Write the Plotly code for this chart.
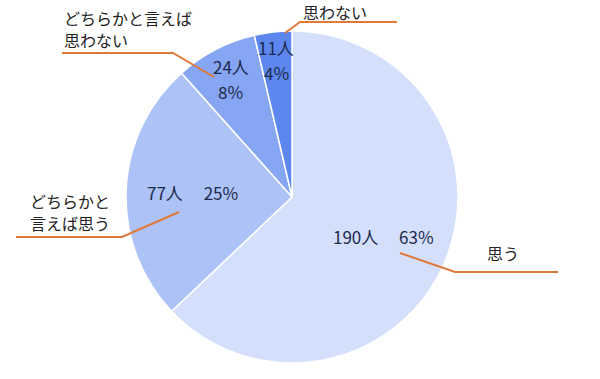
import math
import plotly.graph_objects as go

# ---- data ----
categories = ["思う", "どちらかと言えば思う", "どちらかと言えば思わない", "思わない"]
counts = [190, 77, 24, 11]
percent_labels = ["63%", "25%", "8%", "4%"]
outer_labels = [["思う"], ["どちらかと", "言えば思う"], ["どちらかと言えば", "思わない"], ["思わない"]]

colors = ["#d4e0fb", "#adc2f6", "#86a5f2", "#5d87ef"]

W, H = 600, 379
CX, CY, R = 292, 197, 166

fig = go.Figure(go.Pie(
    labels=categories, values=counts, sort=False, direction="clockwise",
    rotation=0, textinfo="none", hoverinfo="label+value+percent",
    marker=dict(colors=colors, line=dict(color="white", width=1.5)),
    domain=dict(x=[(CX - R) / W, (CX + R) / W],
                y=[(H - CY - R) / H, (H - CY + R) / H]),
    showlegend=False,
))

def px2paper(x, y):
    return x / W, 1 - y / H

annotations = []

def add_text(x, y, text, anchor, font):
    px, py = px2paper(x, y)
    annotations.append(dict(x=px, y=py, xref="paper", yref="paper", text=text,
                            showarrow=False, xanchor=anchor, yanchor="middle",
                            font=font))

inner_font = dict(family="Noto Sans CJK JP", size=17, color="#1c2a4e")
outer_font = dict(family="Noto Sans CJK JP", size=16, color="#222222")

# inner labels, placed along each slice's mid angle
inner_lines = [
    [f"{counts[0]}人　 {percent_labels[0]}"],
    [f"{counts[1]}人　 {percent_labels[1]}"],
    [f"{counts[2]}人", percent_labels[2]],
    [f"{counts[3]}人", percent_labels[3]],
]
radial_frac = [0.6, 0.6, 0.8, 0.83]
LINE = 25
total = sum(counts)
cum = 0
for i, v in enumerate(counts):
    mid = (cum + v / 2) / total * 2 * math.pi
    cum += v
    x = CX + math.sin(mid) * R * radial_frac[i]
    y = CY - math.cos(mid) * R * radial_frac[i]
    lines = inner_lines[i]
    y0 = y - (len(lines) - 1) * LINE / 2
    for j, t in enumerate(lines):
        add_text(x, y0 + j * LINE, t, "center", inner_font)

# outer labels
outer_pos = [(485, 253), (28, 212), (62, 29), (301, 12)]
OLINE = 22
for i, (x, y) in enumerate(outer_pos):
    lines = outer_labels[i]
    y0 = y - (len(lines) - 1) * OLINE / 2
    for j, t in enumerate(lines):
        add_text(x, y0 + j * OLINE, t, "left", outer_font)

# leader lines
leaders = [
    [(400, 253), (455, 272), (558, 272)],
    [(179, 212), (122, 237), (16, 237)],
    [(214, 77), (173, 53), (62, 53)],
    [(285, 33), (300, 22), (397, 22)],
]
shapes = []
for pts in leaders:
    path = "M " + " L ".join(f"{x / W},{1 - y / H}" for x, y in pts)
    shapes.append(dict(type="path", path=path, xref="paper", yref="paper",
                       line=dict(color="#e0783a", width=2)))

fig.update_layout(
    width=W, height=H, margin=dict(l=0, r=0, t=0, b=0),
    paper_bgcolor="white", plot_bgcolor="white",
    annotations=annotations, shapes=shapes,
)
fig.write_html("out.html")
